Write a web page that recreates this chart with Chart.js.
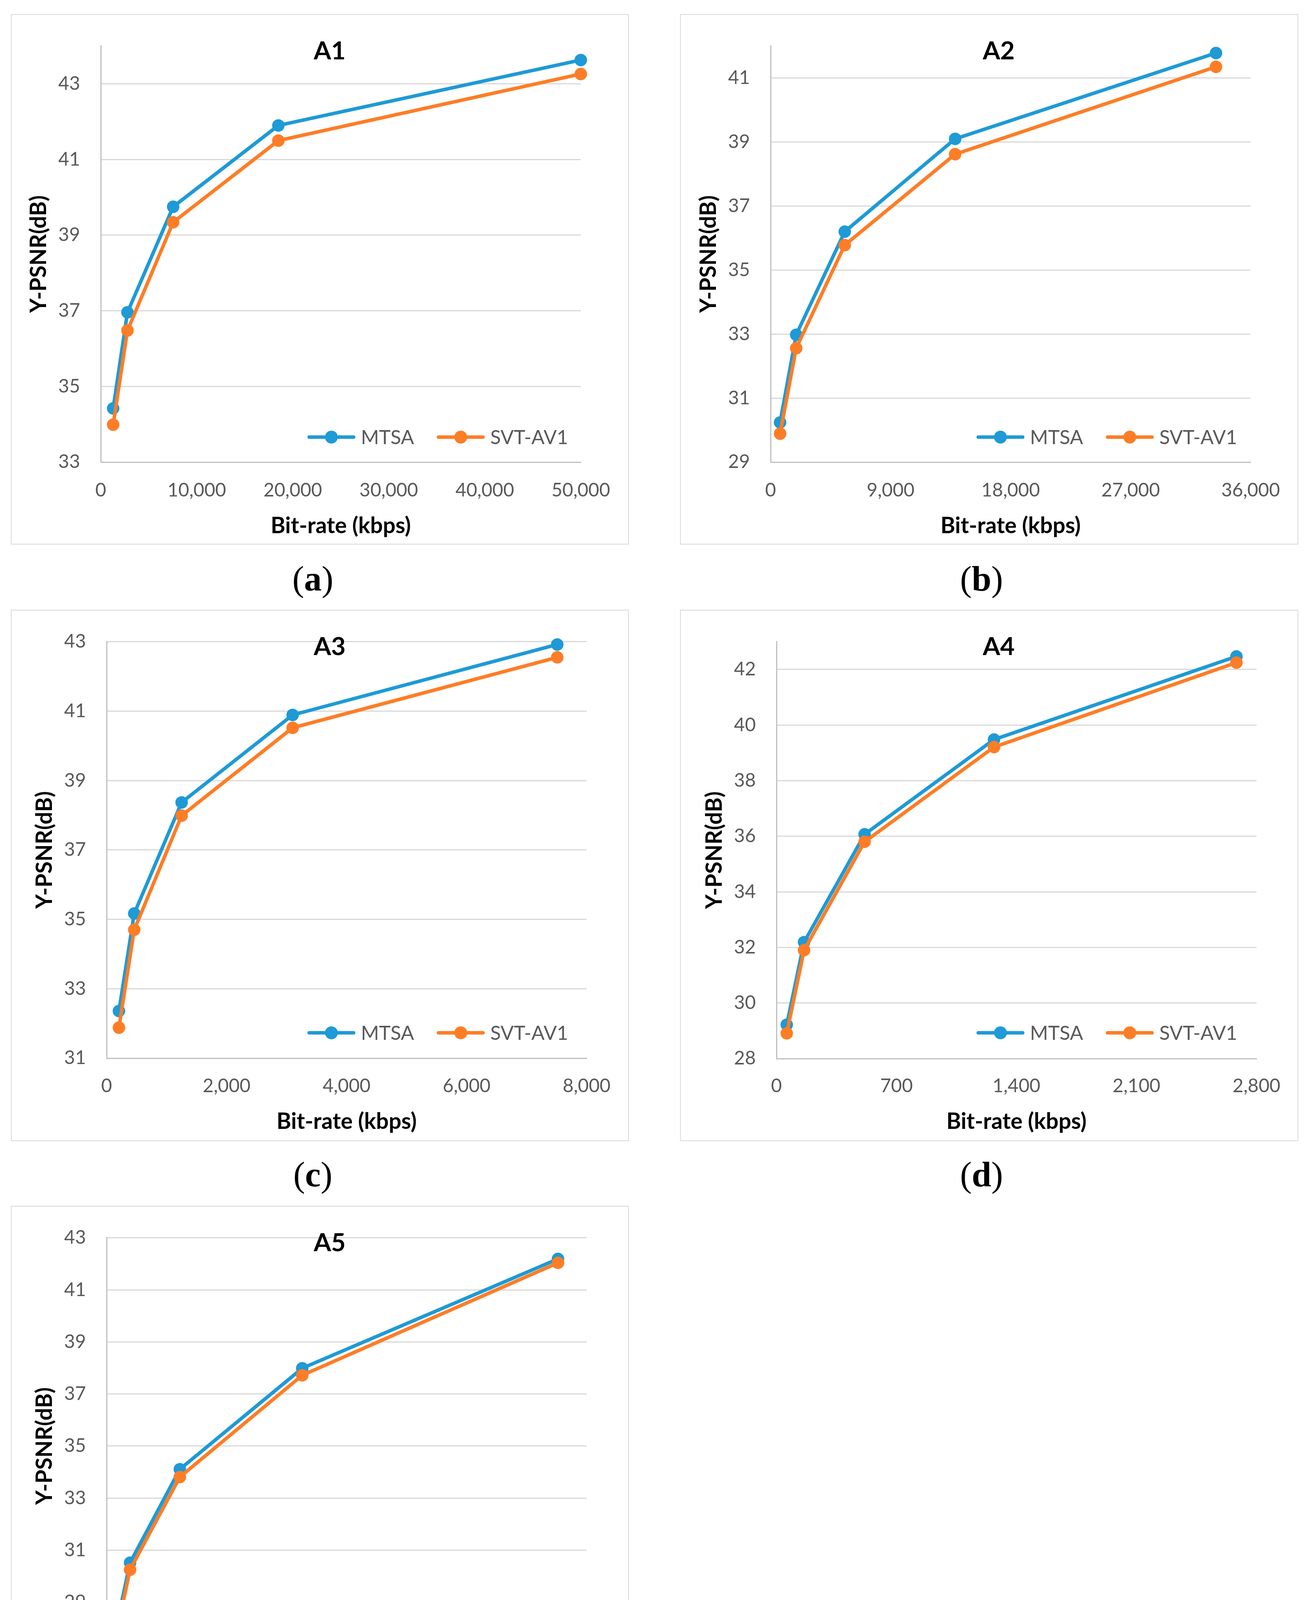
<!DOCTYPE html>
<html>
<head>
<meta charset="utf-8">
<script src="https://cdn.jsdelivr.net/npm/chart.js@4.4.1/dist/chart.umd.min.js"></script>
<style>
html,body{margin:0;padding:0;background:#fff;}
#page{position:relative;width:3354px;height:4597px;background:#fff;overflow:hidden;}
.panel{position:absolute;box-sizing:border-box;border:2px solid #d9d9d9;overflow:hidden;background:#fff;}
.panel canvas{position:absolute;left:-2px;top:-2px;}
.cap{position:absolute;width:300px;text-align:center;font-family:'Liberation Serif','DejaVu Serif',serif;font-size:90px;line-height:90px;color:#000;}
.cap b{font-weight:bold;}
</style>
</head>
<body>
<div id="page"></div>
<script>
// ---------------- data ----------------
const panelNames = ['A1', 'A2', 'A3', 'A4', 'A5'];
const captionLetters = ['a', 'b', 'c', 'd', 'e'];
const seriesNames = ['MTSA', 'SVT-AV1'];
const xAxisTitle = 'Bit-rate (kbps)';
const yAxisTitle = 'Y-PSNR(dB)';

const bitrateA1 = [1290, 2780, 7540, 18500, 50000];
const mtsaA1 = [34.42, 36.96, 39.75, 41.90, 43.63];
const svtA1 = [33.99, 36.48, 39.34, 41.50, 43.26];
const xTicksA1 = [0, 10000, 20000, 30000, 40000, 50000];
const yTicksA1 = [33, 35, 37, 39, 41, 43];
const yRangeA1 = [33, 44];

const bitrateA2 = [710, 1920, 5560, 13840, 33400];
const mtsaA2 = [30.24, 32.98, 36.20, 39.10, 41.78];
const svtA2 = [29.89, 32.56, 35.78, 38.62, 41.35];
const xTicksA2 = [0, 9000, 18000, 27000, 36000];
const yTicksA2 = [29, 31, 33, 35, 37, 39, 41];
const yRangeA2 = [29, 42];

const bitrateA3 = [205, 460, 1250, 3100, 7510];
const mtsaA3 = [32.36, 35.17, 38.37, 40.89, 42.92];
const svtA3 = [31.88, 34.70, 37.99, 40.52, 42.55];
const xTicksA3 = [0, 2000, 4000, 6000, 8000];
const yTicksA3 = [31, 33, 35, 37, 39, 41, 43];
const yRangeA3 = [31, 43];

const bitrateA4 = [60, 161, 514, 1269, 2683];
const mtsaA4 = [29.22, 32.19, 36.07, 39.48, 42.47];
const svtA4 = [28.91, 31.90, 35.80, 39.21, 42.25];
const xTicksA4 = [0, 700, 1400, 2100, 2800];
const yTicksA4 = [28, 30, 32, 34, 36, 38, 40, 42];
const yRangeA4 = [28, 43];

const bitrateA5 = [68, 176, 549, 1467, 3385];
const mtsaA5 = [27.96, 30.52, 34.11, 37.99, 42.19];
const svtA5 = [27.70, 30.25, 33.81, 37.72, 42.04];
const xTicksA5 = [0, 900, 1800, 2700, 3600];
const yTicksA5 = [27, 29, 31, 33, 35, 37, 39, 41, 43];
const yRangeA5 = [27, 43];

const panelData = [
  {bitrate: bitrateA1, mtsa: mtsaA1, svt: svtA1, xTicks: xTicksA1, yTicks: yTicksA1, yRange: yRangeA1},
  {bitrate: bitrateA2, mtsa: mtsaA2, svt: svtA2, xTicks: xTicksA2, yTicks: yTicksA2, yRange: yRangeA2},
  {bitrate: bitrateA3, mtsa: mtsaA3, svt: svtA3, xTicks: xTicksA3, yTicks: yTicksA3, yRange: yRangeA3},
  {bitrate: bitrateA4, mtsa: mtsaA4, svt: svtA4, xTicks: xTicksA4, yTicks: yTicksA4, yRange: yRangeA4},
  {bitrate: bitrateA5, mtsa: mtsaA5, svt: svtA5, xTicks: xTicksA5, yTicks: yTicksA5, yRange: yRangeA5}
];

// ---------------- layout & style ----------------
const seriesColors = ['#1e9ad6', '#fd7d26'];
const boxes = [
  {x: 28,   y: 36,   w: 1582, h: 1358, L: 230, R: 1459, T: 34, B: 1147},
  {x: 1741, y: 36,   w: 1583, h: 1358, L: 232, R: 1461, T: 36, B: 1147},
  {x: 28,   y: 1561, w: 1582, h: 1360, L: 245, R: 1474, T: 34, B: 1148},
  {x: 1741, y: 1561, w: 1583, h: 1360, L: 247, R: 1476, T: 36, B: 1149},
  {x: 28,   y: 3087, w: 1582, h: 1360, L: 245, R: 1474, T: 35, B: 1148}
];
const captionPos = [[801, 1490], [2513, 1490], [801, 3015], [2513, 3015], [801, 4541]];
const FONT = "Lato, 'Open Sans', 'Liberation Sans', sans-serif";
const tickFont = 48, axisTitleFont = 57, titleFont = 64, legendFont = 50;
const titleRel = [816, 95];
const legendRel = [759, 1083];
const xTitleRelY = 1311;
const tickRelY = 1220;
const yTitleOffset = 158;

Chart.defaults.font.family = FONT;

const decoPlugin = {
  id: 'deco',
  afterDraw(chart, args, opts) {
    const ctx = chart.ctx;
    ctx.save();
    ctx.font = 'bold ' + titleFont + 'px ' + FONT;
    ctx.fillStyle = '#000';
    ctx.textAlign = 'center';
    ctx.textBaseline = 'middle';
    ctx.fillText(opts.title, titleRel[0], titleRel[1]);

    let x = legendRel[0];
    const y = legendRel[1];
    ctx.font = legendFont + 'px ' + FONT;
    chart.data.datasets.forEach(ds => {
      ctx.strokeStyle = ds.borderColor;
      ctx.lineWidth = 9;
      ctx.lineCap = 'round';
      ctx.beginPath();
      ctx.moveTo(x + 4.5, y);
      ctx.lineTo(x + 118.5, y);
      ctx.stroke();
      ctx.fillStyle = ds.borderColor;
      ctx.beginPath();
      ctx.arc(x + 61.5, y, 16.5, 0, Math.PI * 2);
      ctx.fill();
      ctx.fillStyle = '#595959';
      ctx.textAlign = 'left';
      ctx.textBaseline = 'middle';
      ctx.fillText(ds.label, x + 137, y + 2);
      x += 137 + ctx.measureText(ds.label).width + 58;
    });
    ctx.restore();
  }
};

const page = document.getElementById('page');

function makeChart(i) {
  const b = boxes[i];
  const d = panelData[i];
  const div = document.createElement('div');
  div.className = 'panel';
  div.style.left = b.x + 'px';
  div.style.top = b.y + 'px';
  div.style.width = b.w + 'px';
  div.style.height = b.h + 'px';
  const canvas = document.createElement('canvas');
  canvas.width = b.w;
  canvas.height = b.h;
  canvas.style.width = b.w + 'px';
  canvas.style.height = b.h + 'px';
  div.appendChild(canvas);
  page.appendChild(div);

  const half = axisTitleFont * 1.2 / 2;
  const padL = b.L - yTitleOffset - half;
  const Wy = b.L - padL;
  const Hx = (xTitleRelY - b.B) + half;
  const padB = b.h - b.B - Hx;

  const mk = (k, vals) => ({
    label: seriesNames[k],
    data: d.bitrate.map((x, j) => ({x: x, y: vals[j]})),
    borderColor: seriesColors[k],
    backgroundColor: seriesColors[k],
    pointBackgroundColor: seriesColors[k],
    pointBorderColor: seriesColors[k],
    borderWidth: 9,
    pointRadius: 15,
    pointBorderWidth: 2,
    pointHoverRadius: 15,
    borderJoinStyle: 'round',
    borderCapStyle: 'round',
    tension: 0,
    clip: false,
    fill: false,
    order: k === 0 ? 1 : 0
  });

  new Chart(canvas, {
    type: 'line',
    data: {datasets: [mk(0, d.mtsa), mk(1, d.svt)]},
    options: {
      responsive: false,
      maintainAspectRatio: false,
      animation: false,
      devicePixelRatio: 1,
      events: [],
      layout: {padding: {left: padL, right: b.w - b.R, top: b.T, bottom: padB}},
      plugins: {
        legend: {display: false},
        tooltip: {enabled: false},
        title: {display: false},
        deco: {title: panelNames[i]}
      },
      scales: {
        x: {
          type: 'linear',
          min: d.xTicks[0],
          max: d.xTicks[d.xTicks.length - 1],
          afterBuildTicks: s => { s.ticks = d.xTicks.map(v => ({value: v})); },
          afterFit: s => { s.height = Hx; },
          grid: {drawOnChartArea: false, drawTicks: false},
          border: {display: true, color: '#bfbfbf', width: 3},
          ticks: {
            padding: tickRelY - b.B - tickFont * 1.2 / 2,
            color: '#595959',
            font: {size: tickFont},
            maxRotation: 0,
            autoSkip: false,
            callback: v => Number(v).toLocaleString('en-US')
          },
          title: {display: true, text: xAxisTitle, color: '#000', font: {size: axisTitleFont, weight: 'bold'}, padding: 0}
        },
        y: {
          type: 'linear',
          min: d.yRange[0],
          max: d.yRange[1],
          afterBuildTicks: s => { s.ticks = d.yTicks.map(v => ({value: v})); },
          afterFit: s => { s.width = Wy; },
          grid: {color: '#d9d9d9', lineWidth: 3, drawTicks: false},
          border: {display: true, color: '#bfbfbf', width: 3},
          ticks: {
            padding: 53,
            color: '#595959',
            font: {size: tickFont},
            autoSkip: false,
            callback: v => String(v)
          },
          title: {display: true, text: yAxisTitle, color: '#000', font: {size: axisTitleFont, weight: 'bold'}, padding: 0}
        }
      }
    },
    plugins: [decoPlugin]
  });

  const cap = document.createElement('div');
  cap.className = 'cap';
  cap.style.left = (captionPos[i][0] - 150) + 'px';
  cap.style.top = (captionPos[i][1] - 53) + 'px';
  cap.innerHTML = '(<b>' + captionLetters[i] + '</b>)';
  page.appendChild(cap);
}

for (let i = 0; i < panelNames.length; i++) makeChart(i);
</script>
</body>
</html>
